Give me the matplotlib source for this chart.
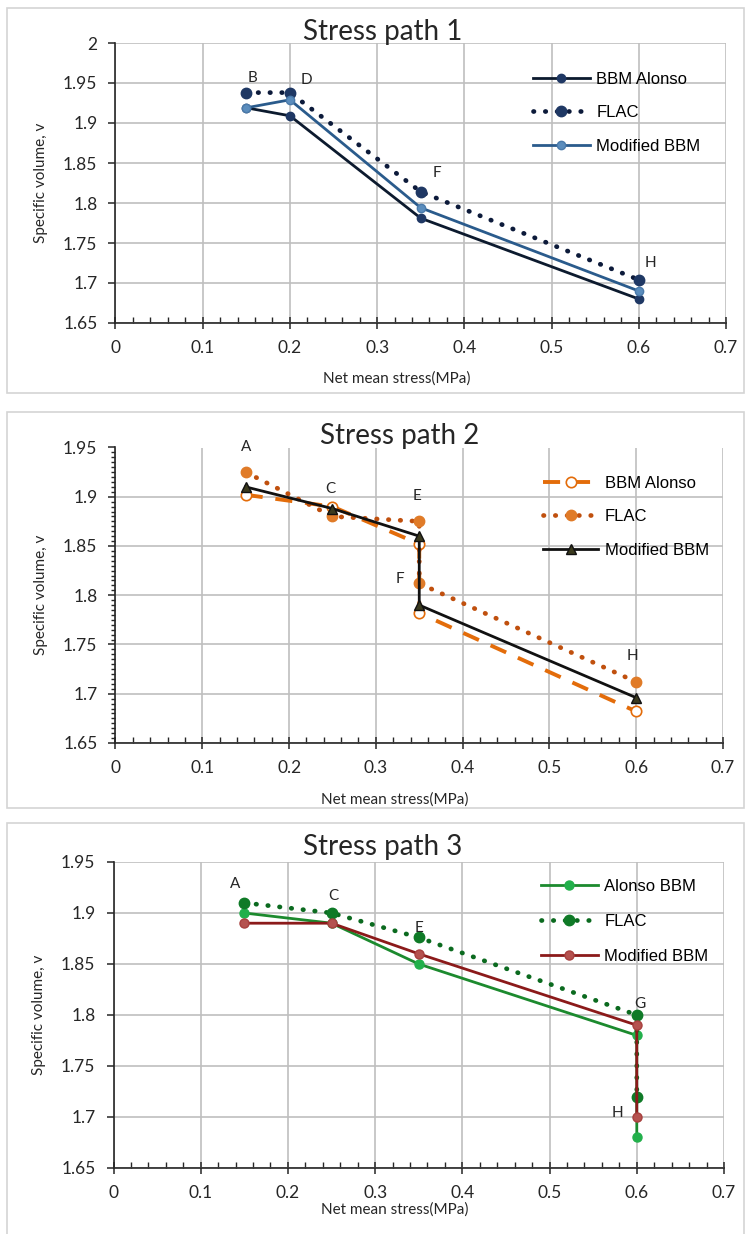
import matplotlib
matplotlib.use("Agg")
import matplotlib.pyplot as plt
from matplotlib.patches import Rectangle
from matplotlib.ticker import MultipleLocator

plt.rcParams["font.family"] = ["Lato", "DejaVu Sans"]

W, H = 749, 1234

# Stress path 1
x1 = [0.15, 0.2, 0.35, 0.6]
alonso1 = [1.919, 1.909, 1.781, 1.680]
flac1 = [1.938, 1.938, 1.814, 1.704]
modif1 = [1.919, 1.929, 1.794, 1.690]
pts1 = [("B", 0.157, 1.956), ("D", 0.219, 1.954), ("F", 0.369, 1.837), ("H", 0.613, 1.725)]

# Stress path 2
x2 = [0.15, 0.25, 0.35, 0.35, 0.6]
alonso2 = [1.902, 1.890, 1.852, 1.782, 1.682]
flac2 = [1.925, 1.880, 1.875, 1.812, 1.712]
modif2 = [1.910, 1.888, 1.860, 1.790, 1.696]
pts2 = [("A", 0.15, 1.951), ("C", 0.248, 1.908), ("E", 0.347, 1.901), ("F", 0.328, 1.817), ("H", 0.596, 1.738)]

# Stress path 3
x3 = [0.15, 0.25, 0.35, 0.6, 0.6]
alonso3 = [1.900, 1.890, 1.850, 1.780, 1.680]
flac3 = [1.910, 1.900, 1.876, 1.800, 1.720]
modif3 = [1.890, 1.890, 1.860, 1.790, 1.700]
pts3 = [("A", 0.139, 1.928), ("C", 0.252, 1.917), ("E", 0.35, 1.885), ("G", 0.604, 1.811), ("H", 0.578, 1.704)]

xticks = [0, 0.1, 0.2, 0.3, 0.4, 0.5, 0.6, 0.7]

fig = plt.figure(figsize=(W / 100, H / 100), dpi=100)


def px_axes(left, top, right, bottom):
    return fig.add_axes([left / W, 1 - bottom / H, (right - left) / W, (bottom - top) / H])


def frame(top, bottom):
    fig.patches.append(Rectangle((7 / W, 1 - bottom / H), 737 / W, (bottom - top) / H,
                                 transform=fig.transFigure, fill=False,
                                 edgecolor="#d4d4d4", lw=1.2))


def style(ax, ymin, ymax, ystep, xlab_y, yminor=None):
    ax.set_xlim(0, 0.7)
    ax.set_ylim(ymin, ymax)
    ax.set_xticks(xticks)
    ax.set_xticklabels(["0"] + ["%g" % t for t in xticks[1:]])
    ax.xaxis.set_minor_locator(MultipleLocator(0.02))
    ax.yaxis.set_major_locator(MultipleLocator(ystep))
    ax.yaxis.set_major_formatter(plt.FuncFormatter(lambda v, p: "%g" % round(v, 3)))
    if yminor:
        ax.yaxis.set_minor_locator(MultipleLocator(yminor))
    ax.grid(True, which="major", color="#bfbfbf", lw=1.2)
    ax.set_axisbelow(True)
    for s in ["top", "right"]:
        ax.spines[s].set_visible(False)
    for s in ["left", "bottom"]:
        ax.spines[s].set_color("#262626")
        ax.spines[s].set_linewidth(1.2)
    ax.tick_params(axis="x", which="major", direction="inout", length=8, width=1.1,
                   labelsize=12.5, pad=8, colors="#262626")
    ax.tick_params(axis="x", which="minor", direction="in", length=4, width=1.0, colors="#262626")
    ax.tick_params(axis="y", which="major", direction="out", length=5, width=1.1,
                   labelsize=12.5, pad=8, colors="#262626")
    ax.tick_params(axis="y", which="minor", direction="out", length=3, width=1.0, colors="#262626")
    ax.set_xlabel("Net mean stress(MPa)", fontsize=11, color="#262626")
    ax.set_ylabel("Specific volume, v", fontsize=11, color="#262626")
    ax.xaxis.label.set_va("center")
    ax.yaxis.label.set_va("center")
    ax.xaxis.set_label_coords(0.46, xlab_y)
    ax.yaxis.set_label_coords(-0.122, 0.5)


def letters(ax, pts):
    for t, x, y in pts:
        ax.text(x, y, t, fontsize=11, color="#262626", ha="center", va="center")


def legend(ax, x, y, hl, sp):
    ax.legend(loc="upper left", bbox_to_anchor=(x / W, 1 - y / H), bbox_transform=fig.transFigure,
              frameon=False, prop={"family": "Liberation Sans", "size": 12},
              handlelength=hl, handletextpad=0.4, labelspacing=sp, borderpad=0,
              borderaxespad=0, numpoints=1)


def title(text, x, y):
    fig.text(x / W, 1 - y / H, text, fontsize=20, ha="center", va="baseline", color="#262626")


dots = (0, (0.1, 2.4))
dot_lw = 3.4

# ---- panel 1
frame(8, 393)
ax1 = px_axes(115.5, 43, 726, 323)
style(ax1, 1.65, 2.0, 0.05, -0.2)
ax1.plot(x1, alonso1, color="#0c1a2e", lw=2, marker="o", ms=6,
         mfc="#1f3864", mec="#1f3864", label="BBM Alonso")
ax1.plot(x1, flac1, color="#0c1a3a", lw=dot_lw, ls=dots, dash_capstyle="round",
         marker="o", ms=7.5, mfc="#1f3864", mec="#1f3864", label="FLAC")
ax1.plot(x1, modif1, color="#2a5b8c", lw=2, marker="o", ms=6,
         mfc="#5b8dbd", mec="#4a7aaa", label="Modified BBM")
letters(ax1, pts1)
title("Stress path 1", 383, 40)
legend(ax1, 533, 72, 3.4, 1.1)

# ---- panel 2
frame(412, 808)
ax2 = px_axes(115.5, 447.5, 723, 743)
style(ax2, 1.65, 1.95, 0.05, -0.19, 0.005)
ax2.plot(x2, alonso2, color="#e36c0a", lw=2.8, ls=(0, (4.4, 3.3)), marker="o", ms=7.5,
         mfc="white", mec="#e36c0a", mew=1.2, label="BBM Alonso")
ax2.plot(x2, flac2, color="#c0500e", lw=dot_lw, ls=dots, dash_capstyle="round",
         marker="o", ms=7.5, mfc="#e07b28", mec="#e07b28", label="FLAC")
ax2.plot(x2, modif2, color="#111111", lw=2, marker="^", ms=7,
         mfc="#3b3a1e", mec="#111111", label="Modified BBM")
letters(ax2, pts2)
title("Stress path 2", 400, 444)
legend(ax2, 543, 476, 3.3, 1.1)

# ---- panel 3
frame(823, 1240)
ax3 = px_axes(113.5, 862, 724, 1168)
style(ax3, 1.65, 1.95, 0.05, -0.135)
ax3.plot(x3, alonso3, color="#1c8a2e", lw=2, marker="o", ms=6.5,
         mfc="#22b04b", mec="#22b04b", label="Alonso BBM")
ax3.plot(x3, flac3, color="#0b6a1f", lw=dot_lw, ls=dots, dash_capstyle="round",
         marker="o", ms=7.5, mfc="#0f7a27", mec="#0f7a27", label="FLAC")
ax3.plot(x3, modif3, color="#8b1a1a", lw=2, marker="o", ms=6.5,
         mfc="#b5524f", mec="#a8403e", label="Modified BBM")
letters(ax3, pts3)
title("Stress path 3", 383, 855)
legend(ax3, 541, 879, 3.4, 1.2)

fig.savefig("out.png", dpi=100, facecolor="white")
